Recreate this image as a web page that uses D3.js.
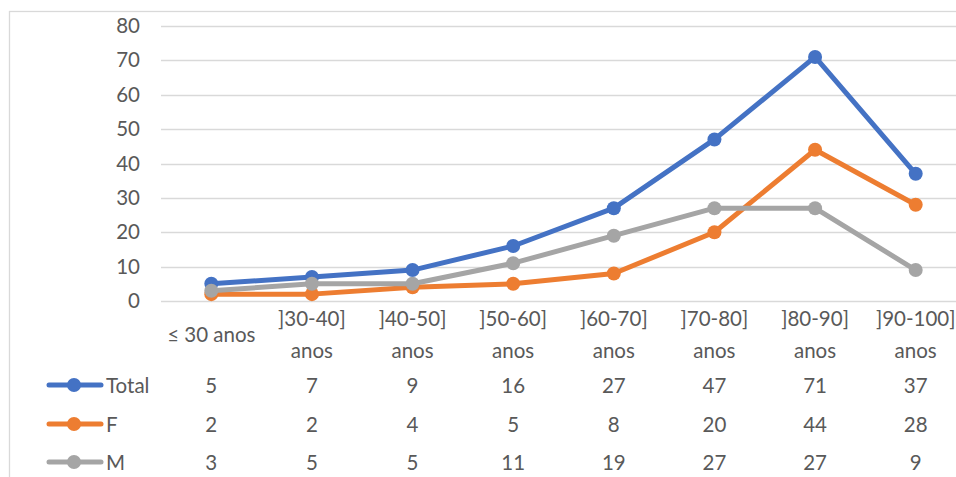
<!DOCTYPE html>
<html>
<head>
<meta charset="utf-8">
<script src="https://cdn.jsdelivr.net/npm/d3@7"></script>
<style>
  html, body { margin: 0; padding: 0; background: #fff; }
  svg { display: block; font-family: Lato, "Open Sans", sans-serif; }
</style>
</head>
<body>
<svg id="chart" width="956" height="477"></svg>
<script>
// Age groups (two-line labels split with "|")
const categories = ["≤ 30 anos", "]30-40]|anos", "]40-50]|anos", "]50-60]|anos",
                    "]60-70]|anos", "]70-80]|anos", "]80-90]|anos", "]90-100]|anos"];
const totalValues = [5, 7, 9, 16, 27, 47, 71, 37];
const femaleValues = [2, 2, 4, 5, 8, 20, 44, 28];
const maleValues = [3, 5, 5, 11, 19, 27, 27, 9];
const yTicks = [0, 10, 20, 30, 40, 50, 60, 70, 80];

const series = [
  { name: "Total", values: totalValues, color: "#4472C4" },
  { name: "F", values: femaleValues, color: "#ED7D31" },
  { name: "M", values: maleValues, color: "#A5A5A5" }
];

const svg = d3.select("#chart");
const textColor = "#595959";
const gridColor = "#D9D9D9";
const fontSize = "20.5px";

// chart frame
svg.append("rect")
  .attr("x", 9.5).attr("y", 11.5)
  .attr("width", 1000).attr("height", 500)
  .attr("fill", "none").attr("stroke", gridColor).attr("stroke-width", 1.3);

const x = d3.scaleBand().domain(categories).range([161, 966]);
const y = d3.scaleLinear().domain([0, 80]).range([301, 26]);

// gridlines
svg.append("g")
  .selectAll("line")
  .data(yTicks)
  .join("line")
  .attr("x1", 161).attr("x2", 966)
  .attr("y1", d => Math.round(y(d)) + 0.5).attr("y2", d => Math.round(y(d)) + 0.5)
  .attr("stroke", gridColor).attr("stroke-width", 1.5);

// y axis labels
const yAxis = d3.axisLeft(y).tickValues(yTicks).tickSize(0).tickPadding(0);
const yg = svg.append("g").attr("transform", "translate(140,0)").call(yAxis);
yg.select(".domain").remove();
yg.selectAll("text")
  .attr("fill", textColor)
  .style("font-size", fontSize)
  .style("font-family", "Lato, 'Open Sans', sans-serif");

// category labels
const catG = svg.append("g");
categories.forEach(c => {
  const lines = c.split("|");
  const cx = x(c) + x.bandwidth() / 2;
  const t = catG.append("text")
    .attr("text-anchor", "middle")
    .attr("fill", textColor)
    .style("font-size", fontSize);
  if (lines.length === 1) {
    t.append("tspan").attr("x", cx).attr("y", 342).text(lines[0]);
  } else {
    lines.forEach((l, i) => {
      t.append("tspan").attr("x", cx).attr("y", 326 + i * 32).text(l);
    });
  }
});

// lines and markers
const line = d3.line()
  .x((d, i) => x(categories[i]) + x.bandwidth() / 2)
  .y(d => y(d));

series.forEach(s => {
  const g = svg.append("g");
  g.append("path")
    .datum(s.values)
    .attr("d", line)
    .attr("fill", "none")
    .attr("stroke", s.color)
    .attr("stroke-width", 5)
    .attr("stroke-linejoin", "round")
    .attr("stroke-linecap", "round");
  g.selectAll("circle")
    .data(s.values)
    .join("circle")
    .attr("cx", (d, i) => x(categories[i]) + x.bandwidth() / 2)
    .attr("cy", d => y(d))
    .attr("r", 7)
    .attr("fill", s.color);
});

// data table with legend keys
const rowY = [393, 432, 470];
series.forEach((s, r) => {
  const ry = rowY[r] - 8;
  svg.append("line")
    .attr("x1", 49).attr("x2", 101)
    .attr("y1", ry).attr("y2", ry)
    .attr("stroke", s.color).attr("stroke-width", 5)
    .attr("stroke-linecap", "round");
  svg.append("circle")
    .attr("cx", 74).attr("cy", ry).attr("r", 7)
    .attr("fill", s.color);
  svg.append("text")
    .attr("x", 106).attr("y", rowY[r])
    .attr("fill", textColor)
    .style("font-size", fontSize)
    .text(s.name);
  svg.append("g")
    .selectAll("text")
    .data(s.values)
    .join("text")
    .attr("x", (d, i) => x(categories[i]) + x.bandwidth() / 2)
    .attr("y", rowY[r])
    .attr("text-anchor", "middle")
    .attr("fill", textColor)
    .style("font-size", fontSize)
    .text(d => d);
});
</script>
</body>
</html>
